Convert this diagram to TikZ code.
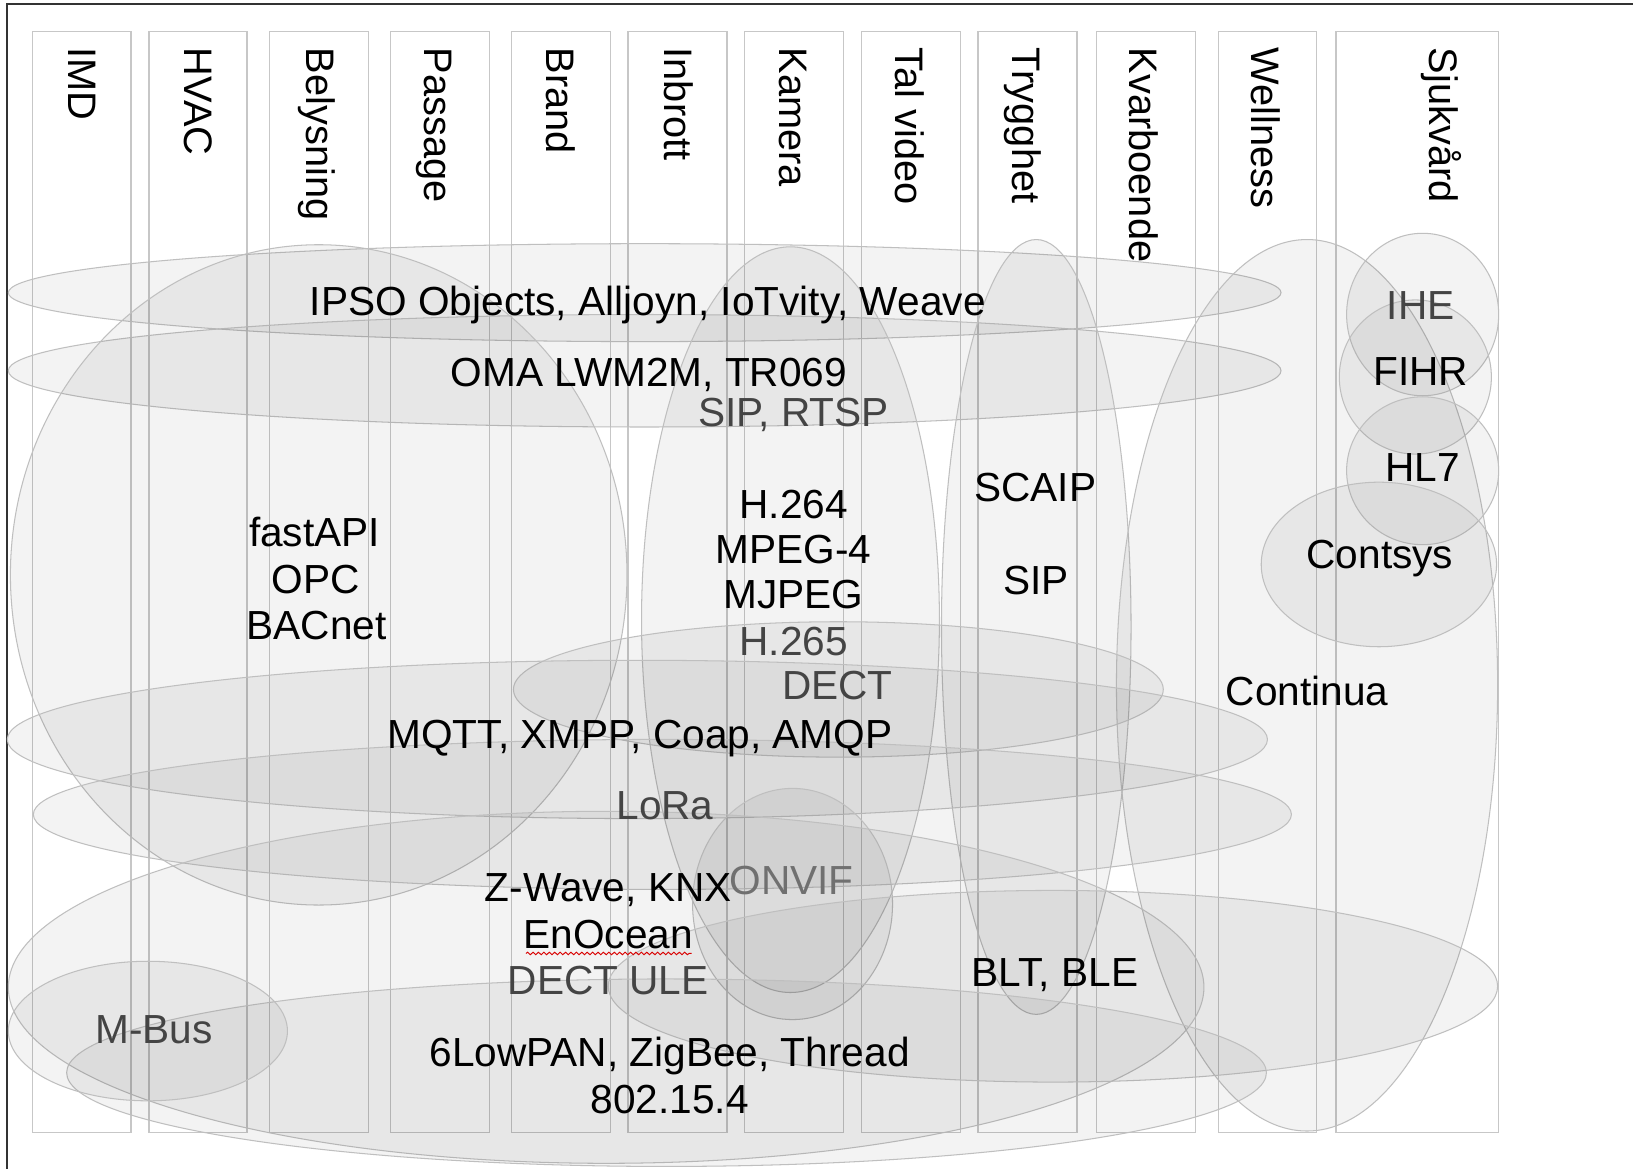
\documentclass[tikz,border=0pt]{standalone}
\usepackage{fontspec}
\setmainfont{Liberation Sans}
\usetikzlibrary{decorations.pathmorphing}
\definecolor{txtgray}{HTML}{444444}
\definecolor{txtlight}{HTML}{707070}
\begin{document}
\begin{tikzpicture}[x=0.5pt,y=-0.5pt,
  ell/.style={draw=black!25, line width=0.5pt, fill=black, fill opacity=0.047},
  colbox/.style={draw=black!22, line width=0.7pt},
  lab/.style={font=\fontsize{19.5}{22}\selectfont, inner sep=0pt, anchor=base},
  glab/.style={lab, text=txtgray},
  llab/.style={lab, text=txtlight},
  vlab/.style={font=\fontsize{19.1}{21.8}\selectfont, inner sep=0pt, anchor=base west, rotate=-90}]
\useasboundingbox (0,0) rectangle (1568,1122);
\fill[white] (0,0) rectangle (1568,1122);
% frame
\draw[line width=1pt, black!80] (7,1122) -- (7,4.2) -- (1568,4.2);
% columns
\foreach \a/\b in {31/126,143/237,259/354,375/470,491/586,603/698,715/810,827/922,939/1034,1053/1148,1170/1264,1283/1439}
  \draw[colbox] (\a,30.5) rectangle (\b,1087.5);
% column labels
\node[vlab] (cimd)  at (65.3,45.5) {IMD};
\node[vlab] (chvac) at (177,45.5) {HVAC};
\node[vlab] (cbel)  at (294,45.5) {Belysning};
\node[vlab] (cpas)  at (408,45.5) {Passage};
\node[vlab] (cbra)  at (525,45.5) {Brand};
\node[vlab] (cinb)  at (638,45.5) {Inbrott};
\node[vlab] (ckam)  at (748,45.5) {Kamera};
\node[vlab] (ctal)  at (860,45.5) {Tal video};
\node[vlab] (ctry)  at (972,45.5) {Trygghet};
\node[vlab] (ckva)  at (1084.5,45.5) {Kvarboende};
\node[vlab] (cwel)  at (1202,45.5) {Wellness};
\node[vlab] (csju)  at (1373,45.5) {Sjukvård};
% ellipses
\draw[ell] (619,281) ellipse [x radius=611, y radius=47];   % IPSO
\draw[ell] (619,356) ellipse [x radius=611, y radius=54];   % OMA
\draw[ell] (306,552) ellipse [x radius=296, y radius=317];  % fastAPI
\draw[ell] (759,595) ellipse [x radius=143, y radius=358];  % Kamera
\draw[ell] (995,602) ellipse [x radius=91, y radius=372];   % Trygghet
\draw[ell] (1255,658) ellipse [x radius=183, y radius=428]; % Continua
\draw[ell] (1366,302) ellipse [x radius=73, y radius=78];   % IHE
\draw[ell] (1359,362) ellipse [x radius=73, y radius=74];   % FIHR
\draw[ell] (1366,452) ellipse [x radius=73, y radius=71];   % HL7
\draw[ell] (1324,542) ellipse [x radius=113, y radius=79];  % Contsys
\draw[ell] (805,662) ellipse [x radius=312, y radius=65];   % DECT
\draw[ell] (612,710) ellipse [x radius=605, y radius=76];   % MQTT
\draw[ell] (636,782) ellipse [x radius=604, y radius=72];   % LoRa
\draw[ell] (761,868) ellipse [x radius=96, y radius=111];   % ONVIF
\draw[ell] (582,948) ellipse [x radius=574, y radius=169];  % Z-Wave
\draw[ell] (1011,947) ellipse [x radius=427, y radius=92];  % BLT
\draw[ell] (640,1030) ellipse [x radius=576, y radius=90];  % 6LowPAN
\draw[ell] (142,990) ellipse [x radius=134, y radius=67];   % M-Bus
% texts
\node[lab]  (ipso)    at (622,302.5) {IPSO Objects, Alljoyn, IoTvity, Weave};
\node[lab]  (oma)     at (623,371) {OMA LWM2M, TR069};
\node[glab] (siprtsp) at (762,410) {SIP, RTSP};
\node[lab]  (fast)    at (302,525) {fastAPI};
\node[lab]  (opc)     at (303,569.5) {OPC};
\node[lab]  (bac)     at (304,614.5) {BACnet};
\node[lab]  (h264)    at (762,497.7) {H.264};
\node[lab]  (mpeg)    at (762,541) {MPEG-4};
\node[lab]  (mjpeg)   at (762,584) {MJPEG};
\node[glab] (h265)    at (762,629) {H.265};
\node[glab] (dect)    at (804,672) {DECT};
\node[lab]  (mqtt)    at (614.5,718.5) {MQTT, XMPP, Coap, AMQP};
\node[glab] (lora)    at (638.5,787) {LoRa};
\node[lab]  (zwave)   at (584,866) {Z-Wave, KNX};
\node[llab] (onvif)   at (760,859) {ONVIF};
\node[lab]  (enocean) at (584,910.5) {EnOcean};
\node[glab] (dectule) at (584,955) {DECT ULE};
\node[glab] (mbus)    at (148,1002) {M-Bus};
\node[lab]  (lowpan)  at (643,1024) {6LowPAN, ZigBee, Thread};
\node[lab]  (ieee)    at (643,1069) {802.15.4};
\node[lab]  (scaip)   at (994,481.7) {SCAIP};
\node[lab]  (sip)     at (995,571.3) {SIP};
\node[lab]  (blt)     at (1013,947.4) {BLT, BLE};
\node[lab]  (continua) at (1255,677) {Continua};
\node[lab]  (contsys) at (1325,545.7) {Contsys};
\node[glab] (ihe)     at (1364,307) {IHE};
\node[lab]  (fihr)    at (1364,369.7) {FIHR};
\node[lab]  (hl7)     at (1366,462.5) {HL7};
% spell-check underline
\draw[red!85!black, line width=0.45pt, decorate, decoration={snake, amplitude=0.6pt, segment length=2.6pt}] (505,915.5) -- (664,915.5);
\end{tikzpicture}
\end{document}
